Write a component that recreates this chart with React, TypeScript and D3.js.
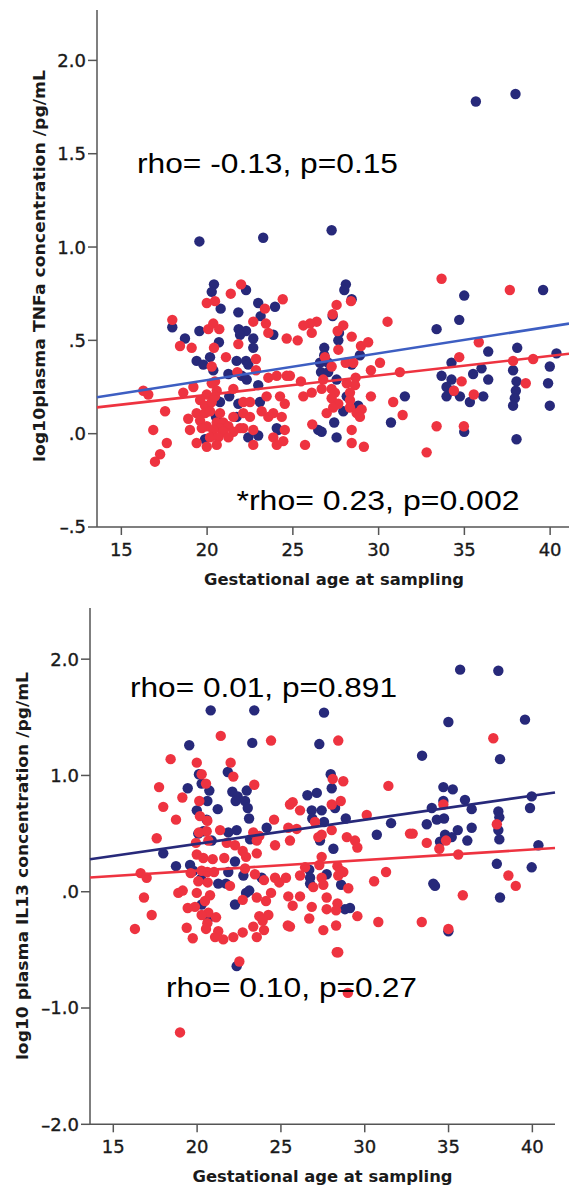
import React from "react";
import * as d3 from "d3";

// ---------- DATA ----------
// Panel 1: log10 plasma TNFa vs gestational age
const tnfNavy: [number, number][] = [
  [19.55,1.03],[23.27,1.05],[27.26,1.09],[35.67,1.78],[37.98,1.82],[20.40,0.80],[20.27,0.76],[22.27,0.77],
  [20.79,0.67],[21.82,0.65],[22.98,0.70],[23.96,0.68],[23.12,0.63],[17.97,0.57],[19.55,0.55],[21.84,0.56],
  [22.27,0.55],[21.92,0.53],[22.69,0.51],[20.69,0.49],[23.86,0.53],[18.71,0.51],[22.69,0.46],[20.17,0.41],
  [19.39,0.39],[19.78,0.37],[21.72,0.39],[22.27,0.39],[22.40,0.37],[20.36,0.34],[21.24,0.32],[22.02,0.31],
  [22.31,0.29],[22.98,0.26],[21.29,0.20],[20.75,0.17],[21.82,0.16],[23.08,0.17],[24.15,0.02],[19.88,-0.03],
  [22.40,-0.02],[22.98,-0.01],[21.72,0.09],[20.52,0.09],[28.09,0.80],[28.0,0.77],[28.43,0.72],[27.32,0.63],
  [27.69,0.54],[27.65,0.50],[26.83,0.46],[26.83,0.42],[26.58,0.38],[27.06,0.38],[28.91,0.42],[28.43,0.37],
  [26.64,0.33],[27.06,0.33],[27.55,0.29],[28.14,0.20],[28.81,0.15],[27.94,0.12],[31.53,0.20],[30.72,0.06],
  [27.41,0.06],[26.48,0.02],[26.68,0.01],[27.55,-0.02],[39.59,0.77],[34.99,0.74],[34.70,0.61],[33.38,0.56],
  [36.39,0.44],[38.08,0.46],[34.25,0.38],[33.67,0.31],[34.25,0.29],[35.51,0.32],[36.0,0.35],[36.39,0.29],
  [33.96,0.25],[34.35,0.23],[33.96,0.20],[34.74,0.20],[35.32,0.17],[36.10,0.20],[37.84,0.34],[38.04,0.28],
  [38.0,0.23],[37.94,0.19],[37.84,0.15],[39.98,0.36],[40.37,0.43],[39.88,0.27],[39.98,0.15],[38.04,-0.03],
  [34.99,0.01],[24.06,0.03]
];
const tnfRed: [number, number][] = [
  [33.67,0.83],[37.65,0.77],[21.98,0.80],[21.38,0.75],[19.98,0.70],[20.46,0.71],[24.41,0.72],[23.37,0.67],
  [17.97,0.61],[22.69,0.60],[20.07,0.56],[20.36,0.59],[20.71,0.56],[23.43,0.59],[23.57,0.54],[24.64,0.51],
  [18.42,0.47],[19.10,0.46],[20.40,0.46],[21.82,0.48],[21.10,0.41],[22.85,0.40],[20.27,0.36],[21.76,0.33],
  [22.85,0.34],[23.57,0.30],[24.06,0.31],[24.64,0.31],[20.46,0.28],[20.27,0.27],[16.28,0.23],[16.57,0.21],
  [18.61,0.22],[19.20,0.25],[19.98,0.21],[20.56,0.23],[21.53,0.24],[19.59,0.18],[19.88,0.15],[20.27,0.17],
  [20.46,0.20],[22.11,0.17],[22.50,0.17],[23.47,0.20],[24.25,0.20],[17.55,0.12],[19.39,0.11],[19.88,0.11],
  [20.17,0.12],[20.75,0.11],[21.53,0.09],[22.11,0.11],[22.50,0.09],[23.18,0.12],[23.57,0.09],[23.86,0.11],
  [24.35,0.09],[18.90,0.08],[19.59,0.07],[20.56,0.06],[20.94,0.06],[19.98,0.04],[20.75,0.03],[21.24,0.04],
  [21.92,0.03],[19.0,0.02],[19.69,0.03],[20.36,0.02],[20.94,0.01],[21.53,0.01],[22.11,0.03],[22.69,0.02],
  [16.86,0.02],[20.17,-0.02],[20.65,-0.02],[21.24,-0.02],[23.86,-0.02],[24.44,-0.04],[17.65,-0.05],[19.39,-0.05],
  [19.98,-0.07],[20.56,-0.06],[22.69,-0.06],[24.06,-0.06],[17.26,-0.11],[16.96,-0.15],[27.55,0.69],[28.39,0.71],
  [27.32,0.64],[26.39,0.60],[26.0,0.59],[25.61,0.58],[26.10,0.54],[30.52,0.60],[27.94,0.58],[27.61,0.55],
  [28.43,0.52],[25.28,0.50],[27.65,0.45],[28.97,0.47],[29.39,0.49],[26.87,0.41],[28.08,0.38],[28.52,0.38],
  [30.08,0.38],[27.26,0.36],[29.55,0.34],[31.24,0.33],[24.83,0.31],[25.47,0.28],[26.77,0.29],[28.66,0.30],
  [28.14,0.27],[28.62,0.26],[26.68,0.24],[27.26,0.24],[27.45,0.22],[26.10,0.22],[25.61,0.20],[28.33,0.22],
  [29.55,0.20],[27.26,0.19],[28.33,0.18],[27.65,0.16],[27.35,0.14],[28.33,0.14],[29.01,0.13],[30.85,0.17],
  [26.97,0.11],[28.72,0.11],[28.91,0.09],[31.40,0.10],[26.13,0.05],[28.43,0.02],[25.71,-0.06],[28.43,-0.05],
  [29.14,-0.07],[24.53,0.16],[24.53,0.02],[35.84,0.49],[34.70,0.41],[34.84,0.28],[34.39,0.23],[35.55,0.21],
  [37.84,0.39],[39.01,0.40],[38.58,0.27],[33.38,0.04],[34.97,0.04],[32.80,-0.10]
];
// Fit lines (end points, data units)
const tnfFitNavy: [number, number][] = [[13.58, 0.195], [41.1, 0.59]];
const tnfFitRed: [number, number][] = [[13.58, 0.141], [41.1, 0.428]];

// Panel 2: log10 plasma IL13 vs gestational age
const il13Navy: [number, number][] = [
  [20.81,1.56],[23.41,1.56],[19.53,1.26],[23.29,1.28],[21.83,1.03],[20.11,1.01],[20.27,0.93],[20.73,0.87],
  [19.44,0.89],[22.10,0.86],[22.42,0.82],[22.96,0.87],[22.86,0.78],[20.61,0.78],[22.30,0.78],[21.23,0.71],
  [19.98,0.70],[23.02,0.72],[23.10,0.63],[20.57,0.62],[20.37,0.52],[22.36,0.53],[21.86,0.51],[24.15,0.55],
  [20.07,0.50],[20.87,0.44],[23.16,0.45],[17.98,0.33],[18.74,0.22],[19.58,0.23],[22.26,0.26],[19.77,0.18],
  [21.86,0.17],[22.76,0.14],[21.26,0.07],[21.72,0.07],[20.23,0.11],[23.85,0.12],[22.92,-0.01],[23.11,0.01],
  [22.26,-0.11],[20.27,-0.11],[20.67,-0.23],[22.36,-0.64],[27.29,1.27],[27.97,1.01],[28.03,0.89],[26.58,0.83],
  [27.14,0.85],[26.84,0.70],[27.43,0.70],[28.23,0.72],[26.87,0.63],[27.57,0.60],[28.87,0.63],[30.72,0.49],
  [31.57,0.59],[27.33,0.44],[28.13,0.37],[26.69,0.19],[26.74,0.12],[26.74,0.07],[27.73,0.15],[28.59,0.06],
  [28.82,-0.15],[29.12,-0.14],[27.57,1.54],[35.69,1.91],[37.97,1.90],[34.99,1.46],[39.56,1.48],[33.42,1.17],
  [38.07,1.14],[34.69,0.90],[35.25,0.88],[34.69,0.78],[35.98,0.79],[34.0,0.72],[36.38,0.71],[37.97,0.69],
  [38.03,0.64],[39.96,0.82],[39.86,0.72],[33.70,0.58],[34.30,0.62],[34.73,0.63],[36.38,0.55],[35.55,0.53],
  [37.97,0.53],[34.79,0.49],[35.19,0.47],[36.12,0.44],[38.03,0.45],[34.49,0.43],[40.36,0.40],[37.88,0.24],
  [39.96,0.21],[34.09,0.07],[34.19,0.05],[38.07,-0.05],[34.99,-0.34]
];
const il13Red: [number, number][] = [
  [21.41,1.34],[24.41,1.30],[18.42,1.14],[19.98,1.11],[22.0,1.11],[22.16,0.99],[20.27,1.01],[20.53,0.93],
  [23.41,0.92],[17.73,0.90],[19.12,0.81],[20.13,0.78],[17.98,0.73],[18.74,0.62],[20.17,0.65],[20.61,0.61],
  [24.59,0.62],[25.54,0.75],[17.59,0.46],[20.11,0.51],[20.57,0.52],[21.37,0.53],[23.35,0.51],[23.71,0.48],
  [25.44,0.55],[19.93,0.42],[20.67,0.44],[21.77,0.42],[22.26,0.40],[22.72,0.35],[22.92,0.30],[23.56,0.44],
  [24.65,0.40],[23.56,0.33],[19.98,0.32],[20.37,0.29],[20.93,0.28],[21.62,0.29],[16.63,0.16],[16.99,0.12],
  [19.62,0.16],[20.27,0.18],[20.61,0.17],[21.01,0.17],[22.86,0.20],[23.45,0.15],[23.99,0.10],[24.65,0.12],
  [24.90,0.08],[25.30,0.12],[20.07,0.09],[20.63,0.08],[21.96,0.05],[24.41,-0.01],[18.88,-0.01],[19.14,0.01],
  [19.98,-0.01],[20.77,-0.03],[16.83,-0.05],[22.72,-0.07],[23.56,-0.05],[24.11,-0.08],[25.44,-0.04],[20.47,-0.08],
  [19.87,-0.13],[19.44,-0.14],[20.67,-0.18],[20.27,-0.20],[21.13,-0.22],[17.29,-0.20],[23.71,-0.21],[24.25,-0.20],
  [23.91,-0.25],[20.61,-0.27],[25.41,-0.29],[16.29,-0.32],[19.38,-0.31],[20.53,-0.32],[21.26,-0.34],[23.35,-0.30],
  [23.99,-0.33],[19.74,-0.40],[21.07,-0.39],[21.56,-0.41],[22.16,-0.39],[22.72,-0.35],[23.56,-0.39],[22.52,-0.60],
  [18.98,-1.21],[28.42,1.30],[28.09,0.97],[28.72,0.95],[31.41,0.91],[25.70,0.77],[26.14,0.70],[28.03,0.75],
  [28.57,0.78],[30.12,0.66],[27.03,0.60],[25.94,0.54],[28.03,0.53],[27.43,0.49],[27.23,0.47],[25.54,0.44],
  [28.93,0.47],[29.42,0.44],[29.56,0.38],[32.70,0.50],[27.43,0.30],[26.44,0.21],[27.29,0.23],[28.37,0.22],
  [28.57,0.18],[28.72,0.17],[28.42,0.14],[31.27,0.17],[26.14,0.14],[27.43,0.12],[26.93,0.04],[27.53,0.06],
  [29.02,0.03],[30.56,0.09],[26.14,-0.04],[27.73,-0.05],[25.70,-0.12],[26.84,-0.13],[27.73,-0.15],[28.37,-0.10],
  [28.29,-0.16],[29.56,-0.21],[26.69,-0.23],[25.54,-0.30],[27.53,-0.33],[28.29,-0.29],[30.81,-0.26],[28.33,-0.52],
  [28.42,-0.52],[28.99,-0.87],[37.67,1.32],[34.69,0.75],[37.88,0.58],[32.86,0.50],[33.70,0.42],[34.45,0.37],
  [34.85,0.44],[35.58,0.32],[38.57,0.14],[39.01,0.05],[33.40,-0.26],[34.99,-0.32],[35.85,-0.03]
];
const il13FitNavy: [number, number][] = [[13.61, 0.28], [41.35, 0.854]];
const il13FitRed: [number, number][] = [[13.61, 0.123], [41.35, 0.376]];

const xTicks = [15, 20, 25, 30, 35, 40];
const tnfYTicks = [-0.5, 0, 0.5, 1.0, 1.5, 2.0];
const tnfYLabels = ["–.5", ".0", ".5", "1.0", "1.5", "2.0"];
const il13YTicks = [-2, -1, 0, 1, 2];
const il13YLabels = ["–2.0", "–1.0", ".0", "1.0", "2.0"];

const NAVY = "#27297a";
const RED = "#ee3340";
const AXIS = "#555";
const TICKFONT = "'DejaVu Sans', sans-serif";

type PanelProps = {
  navy: [number, number][];
  red: [number, number][];
  fitNavy: [number, number][];
  fitRed: [number, number][];
  fitNavyColor: string;
  xDomain: [number, number];
  xRange: [number, number];
  yDomain: [number, number];
  yRange: [number, number];
  yTicks: number[];
  yLabels: string[];
  yTitle: string;
  yTitleX: number;
  yTitleY: number;
  yTitleW: number;
  xTitleX: number;
  xTitleY: number;
  notes: { text: string; x: number; y: number; w: number }[];
};

function Panel(p: PanelProps) {
  const x = d3.scaleLinear().domain(p.xDomain).range(p.xRange);
  const y = d3.scaleLinear().domain(p.yDomain).range(p.yRange);
  const line = d3.line<[number, number]>().x((d) => x(d[0])).y((d) => y(d[1]));
  const x0 = p.xRange[0];
  const yBot = p.yRange[0];
  const yTop = p.yRange[1];
  return (
    <g>
      {/* axes */}
      <line x1={x0} x2={x0} y1={yTop} y2={yBot} stroke={AXIS} strokeWidth={1.5} />
      <line x1={x0} x2={p.xRange[1]} y1={yBot} y2={yBot} stroke={AXIS} strokeWidth={1.5} />
      {p.yTicks.map((t, i) => (
        <g key={"yt" + i}>
          <line x1={x0 - 9} x2={x0} y1={y(t)} y2={y(t)} stroke={AXIS} strokeWidth={1.5} />
          <text x={x0 - 11} y={y(t)} dy="0.36em" textAnchor="end" fontFamily={TICKFONT} fontSize={18}
            fill="#1a1a1a" stroke="#1a1a1a" strokeWidth={0.35}>
            {p.yLabels[i]}
          </text>
        </g>
      ))}
      {xTicks.map((t, i) => (
        <g key={"xt" + i}>
          <line x1={x(t)} x2={x(t)} y1={yBot} y2={yBot + 8} stroke={AXIS} strokeWidth={1.5} />
          <text x={x(t)} y={yBot + 29} textAnchor="middle" fontFamily={TICKFONT} fontSize={18}
            fill="#1a1a1a" stroke="#1a1a1a" strokeWidth={0.35}>
            {t}
          </text>
        </g>
      ))}
      <text x={p.xTitleX} y={p.xTitleY} textAnchor="middle" fontFamily={TICKFONT} fontWeight="bold" fontSize={16}
        fill="#1a1a1a" textLength={260} lengthAdjust="spacingAndGlyphs">
        Gestational age at sampling
      </text>
      <text
        transform={`translate(${p.yTitleX},${p.yTitleY}) rotate(-90)`}
        textAnchor="middle"
        fontFamily={TICKFONT}
        fontWeight="bold"
        fontSize={16}
        fill="#1a1a1a"
        textLength={p.yTitleW}
        lengthAdjust="spacingAndGlyphs"
      >
        {p.yTitle}
      </text>
      {/* points */}
      {p.navy.map((d, i) => (
        <circle key={"n" + i} cx={x(d[0])} cy={y(d[1])} r={5.2} fill={NAVY} />
      ))}
      {p.red.map((d, i) => (
        <circle key={"r" + i} cx={x(d[0])} cy={y(d[1])} r={5.2} fill={RED} />
      ))}
      {/* fit lines */}
      <path d={line(p.fitNavy) || ""} stroke={p.fitNavyColor} strokeWidth={2.6} fill="none" />
      <path d={line(p.fitRed) || ""} stroke={RED} strokeWidth={2.6} fill="none" />
      {/* annotations */}
      {p.notes.map((n, i) => (
        <text
          key={"t" + i}
          x={n.x}
          y={n.y}
          fontFamily="'Liberation Sans', Arial, sans-serif"
          fontSize={27}
          fill="#000"
          textLength={n.w}
          lengthAdjust="spacingAndGlyphs"
        >
          {n.text}
        </text>
      ))}
    </g>
  );
}

export default function App() {
  return (
    <svg
      width={569}
      height={1189}
      viewBox="0 0 569 1189"
      style={{ position: "absolute", left: 0, top: 0, display: "block", background: "#fff" }}
    >
      <rect x={0} y={0} width={569} height={1189} fill="#fff" />
      <Panel
        navy={tnfNavy}
        red={tnfRed}
        fitNavy={tnfFitNavy}
        fitRed={tnfFitRed}
        fitNavyColor="#3d5ec2"
        xDomain={[13.58, 41.1]}
        xRange={[97, 569]}
        yDomain={[-0.5, 2.27]}
        yRange={[527, 10]}
        yTicks={tnfYTicks}
        yLabels={tnfYLabels}
        yTitle="log10plasma TNFa concentration  /pg/mL"
        yTitleX={45}
        yTitleY={266}
        yTitleW={392}
        xTitleX={334}
        xTitleY={585}
        notes={[
          { text: "rho= -0.13, p=0.15", x: 137, y: 172.5, w: 261 },
          { text: "*rho= 0.23, p=0.002", x: 236.5, y: 509.5, w: 283 },
        ]}
      />
      <Panel
        navy={il13Navy}
        red={il13Red}
        fitNavy={il13FitNavy}
        fitRed={il13FitRed}
        fitNavyColor={NAVY}
        xDomain={[13.61, 41.35]}
        xRange={[90, 555]}
        yDomain={[-2, 2.44]}
        yRange={[1124.3, 608]}
        yTicks={il13YTicks}
        yLabels={il13YLabels}
        yTitle="log10 plasma IL13 concentration  /pg/mL"
        yTitleX={28}
        yTitleY={866}
        yTitleW={388}
        xTitleX={322.5}
        xTitleY={1182}
        notes={[
          { text: "rho= 0.01, p=0.891", x: 130, y: 696.5, w: 267 },
          { text: "rho= 0.10, p=0.27", x: 166, y: 996.5, w: 251 },
        ]}
      />
    </svg>
  );
}
